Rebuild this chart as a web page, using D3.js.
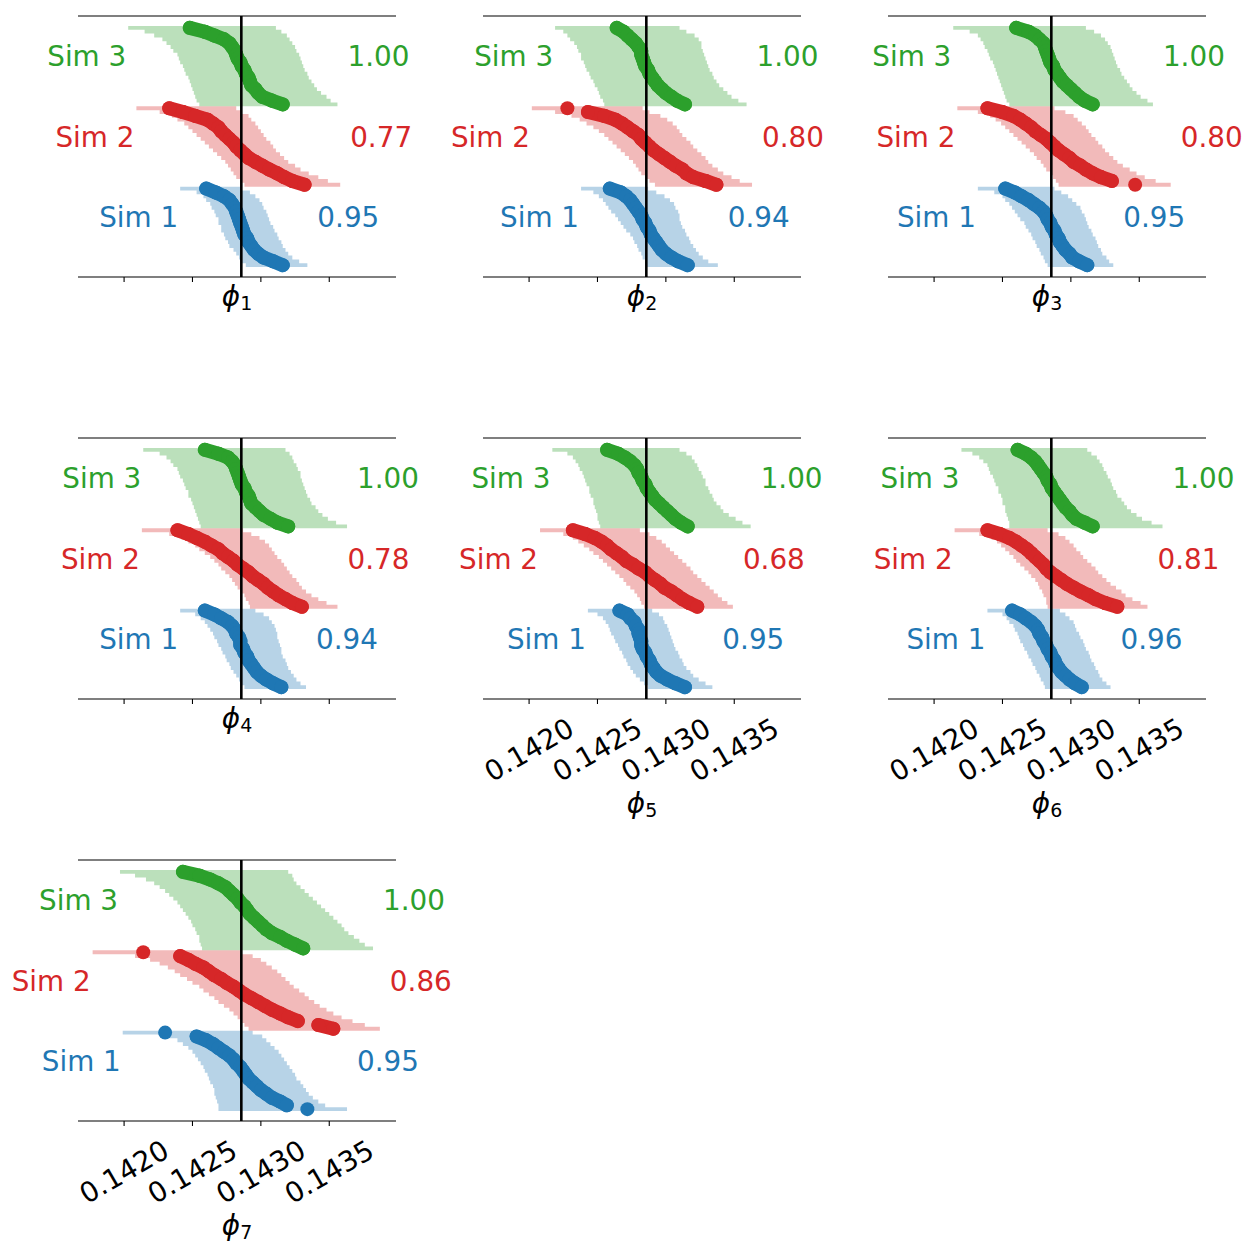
<!DOCTYPE html>
<html><head><meta charset="utf-8">
<script src="https://cdn.jsdelivr.net/npm/d3@7"></script>
<style>body{margin:0;background:#fff} text{font-family:"DejaVu Sans",sans-serif}</style>
</head><body><svg id="c" width="1245" height="1243"></svg>
<script>
// ---------- data (each array: [Sim 1, Sim 2, Sim 3]; replicates sorted by estimate) ----------
const sims = ["Sim 1", "Sim 2", "Sim 3"];
const simColors = ["#1f77b4", "#d62728", "#2ca02c"];
const trueValue = 1 / 7;
const xTicks = [0.1420, 0.1425, 0.1430, 0.1435];
const xTickLabels = ["0.1420", "0.1425", "0.1430", "0.1435"];
const paramNames = ["1", "2", "3", "4", "5", "6", "7"];
const coverage = [
  [0.95, 0.77, 1.00], [0.94, 0.80, 1.00], [0.95, 0.80, 1.00], [0.94, 0.78, 1.00],
  [0.95, 0.68, 1.00], [0.96, 0.81, 1.00], [0.95, 0.86, 1.00]
];

const est1 = [
 [0.14260,0.14267,0.14273,0.14277,0.14279,0.14281,0.14282,0.14283,0.14284,0.14285,0.14286,0.14287,0.14288,0.14290,0.14291,0.14293,0.14295,0.14298,0.14302,0.14309,0.14316],
 [0.14233,0.14243,0.14252,0.14261,0.14265,0.14269,0.14271,0.14274,0.14277,0.14280,0.14282,0.14285,0.14288,0.14291,0.14296,0.14301,0.14306,0.14312,0.14317,0.14323,0.14332],
 [0.14248,0.14259,0.14266,0.14273,0.14277,0.14279,0.14281,0.14282,0.14283,0.14285,0.14286,0.14288,0.14289,0.14291,0.14292,0.14293,0.14296,0.14298,0.14301,0.14308,0.14316]];
const lo1 = [
 [0.14241,0.14253,0.14258,0.14260,0.14263,0.14264,0.14266,0.14267,0.14269,0.14269,0.14271,0.14271,0.14273,0.14274,0.14276,0.14277,0.14280,0.14282,0.14284,0.14286,0.14289],
 [0.14209,0.14226,0.14235,0.14239,0.14244,0.14247,0.14250,0.14253,0.14256,0.14259,0.14262,0.14265,0.14268,0.14271,0.14274,0.14276,0.14278,0.14280,0.14282,0.14285,0.14288],
 [0.14203,0.14215,0.14222,0.14228,0.14231,0.14234,0.14236,0.14239,0.14240,0.14241,0.14243,0.14244,0.14245,0.14247,0.14248,0.14249,0.14250,0.14251,0.14252,0.14253,0.14255]];
const hi1 = [
 [0.14285,0.14292,0.14296,0.14299,0.14301,0.14302,0.14304,0.14305,0.14306,0.14307,0.14309,0.14310,0.14312,0.14313,0.14315,0.14316,0.14318,0.14320,0.14323,0.14328,0.14334],
 [0.14282,0.14286,0.14291,0.14293,0.14296,0.14298,0.14300,0.14302,0.14304,0.14307,0.14309,0.14311,0.14314,0.14317,0.14320,0.14325,0.14329,0.14335,0.14342,0.14349,0.14358],
 [0.14311,0.14315,0.14319,0.14321,0.14323,0.14325,0.14326,0.14328,0.14329,0.14330,0.14331,0.14332,0.14334,0.14335,0.14337,0.14339,0.14341,0.14344,0.14348,0.14351,0.14356]];

const est2 = [
 [0.14259,0.14267,0.14271,0.14274,0.14276,0.14278,0.14280,0.14282,0.14283,0.14285,0.14286,0.14288,0.14289,0.14291,0.14293,0.14295,0.14297,0.14300,0.14304,0.14309,0.14316],
 [0.14228,0.14243,0.14255,0.14263,0.14268,0.14272,0.14276,0.14280,0.14282,0.14285,0.14288,0.14291,0.14295,0.14299,0.14303,0.14307,0.14312,0.14315,0.14320,0.14329,0.14337],
 [0.14264,0.14269,0.14272,0.14275,0.14278,0.14280,0.14282,0.14282,0.14283,0.14284,0.14285,0.14287,0.14288,0.14290,0.14292,0.14294,0.14297,0.14300,0.14304,0.14308,0.14314]];
const lo2 = [
 [0.14238,0.14247,0.14251,0.14254,0.14256,0.14258,0.14260,0.14263,0.14265,0.14267,0.14269,0.14271,0.14274,0.14276,0.14277,0.14279,0.14280,0.14282,0.14283,0.14285,0.14286],
 [0.14202,0.14219,0.14231,0.14237,0.14242,0.14247,0.14251,0.14255,0.14258,0.14261,0.14264,0.14267,0.14270,0.14273,0.14276,0.14278,0.14280,0.14282,0.14285,0.14288,0.14292],
 [0.14219,0.14225,0.14228,0.14230,0.14233,0.14235,0.14236,0.14238,0.14238,0.14240,0.14241,0.14242,0.14244,0.14245,0.14247,0.14248,0.14250,0.14251,0.14252,0.14254,0.14255]];
const hi2 = [
 [0.14287,0.14293,0.14299,0.14303,0.14306,0.14307,0.14309,0.14310,0.14310,0.14311,0.14312,0.14314,0.14315,0.14317,0.14318,0.14320,0.14322,0.14324,0.14327,0.14331,0.14338],
 [0.14283,0.14288,0.14296,0.14301,0.14305,0.14308,0.14310,0.14312,0.14315,0.14318,0.14320,0.14323,0.14326,0.14329,0.14331,0.14334,0.14338,0.14342,0.14348,0.14354,0.14363],
 [0.14310,0.14315,0.14321,0.14324,0.14326,0.14326,0.14327,0.14328,0.14329,0.14330,0.14331,0.14332,0.14334,0.14335,0.14337,0.14339,0.14342,0.14345,0.14348,0.14353,0.14359]];

const est3 = [
 [0.14252,0.14259,0.14264,0.14269,0.14273,0.14277,0.14280,0.14282,0.14283,0.14285,0.14286,0.14288,0.14289,0.14291,0.14292,0.14294,0.14296,0.14299,0.14301,0.14306,0.14312],
 [0.14239,0.14250,0.14258,0.14263,0.14267,0.14271,0.14274,0.14278,0.14282,0.14285,0.14288,0.14291,0.14295,0.14299,0.14302,0.14307,0.14311,0.14316,0.14322,0.14330,0.14347],
 [0.14260,0.14269,0.14274,0.14277,0.14280,0.14281,0.14282,0.14283,0.14284,0.14285,0.14287,0.14288,0.14290,0.14292,0.14294,0.14297,0.14300,0.14303,0.14306,0.14310,0.14316]];
const lo3 = [
 [0.14232,0.14244,0.14250,0.14252,0.14255,0.14257,0.14259,0.14261,0.14263,0.14266,0.14267,0.14269,0.14271,0.14272,0.14274,0.14275,0.14277,0.14278,0.14280,0.14281,0.14283],
 [0.14217,0.14232,0.14241,0.14245,0.14249,0.14252,0.14255,0.14258,0.14261,0.14264,0.14267,0.14270,0.14273,0.14275,0.14278,0.14280,0.14282,0.14285,0.14287,0.14289,0.14291],
 [0.14214,0.14226,0.14232,0.14234,0.14236,0.14237,0.14239,0.14240,0.14241,0.14243,0.14244,0.14245,0.14246,0.14247,0.14248,0.14249,0.14250,0.14251,0.14252,0.14253,0.14255]];
const hi3 = [
 [0.14288,0.14293,0.14298,0.14301,0.14304,0.14307,0.14308,0.14310,0.14311,0.14312,0.14313,0.14315,0.14316,0.14318,0.14319,0.14320,0.14322,0.14323,0.14326,0.14328,0.14331],
 [0.14288,0.14296,0.14302,0.14305,0.14308,0.14311,0.14313,0.14315,0.14318,0.14320,0.14323,0.14325,0.14328,0.14331,0.14334,0.14338,0.14343,0.14348,0.14354,0.14362,0.14373],
 [0.14311,0.14317,0.14322,0.14325,0.14327,0.14329,0.14330,0.14331,0.14332,0.14333,0.14334,0.14336,0.14337,0.14339,0.14341,0.14343,0.14345,0.14348,0.14351,0.14356,0.14360]];

const est4 = [
 [0.14259,0.14266,0.14271,0.14276,0.14279,0.14281,0.14282,0.14284,0.14285,0.14285,0.14287,0.14288,0.14290,0.14291,0.14293,0.14295,0.14297,0.14300,0.14304,0.14309,0.14315],
 [0.14239,0.14247,0.14253,0.14259,0.14264,0.14269,0.14272,0.14276,0.14280,0.14283,0.14287,0.14291,0.14294,0.14298,0.14302,0.14305,0.14309,0.14313,0.14318,0.14323,0.14330],
 [0.14259,0.14269,0.14276,0.14279,0.14281,0.14282,0.14283,0.14284,0.14285,0.14286,0.14288,0.14289,0.14291,0.14292,0.14293,0.14296,0.14299,0.14302,0.14307,0.14312,0.14320]];
const lo4 = [
 [0.14241,0.14252,0.14256,0.14259,0.14261,0.14263,0.14265,0.14266,0.14268,0.14269,0.14271,0.14272,0.14274,0.14275,0.14277,0.14278,0.14280,0.14282,0.14284,0.14286,0.14288],
 [0.14213,0.14233,0.14242,0.14247,0.14252,0.14255,0.14259,0.14263,0.14266,0.14269,0.14271,0.14274,0.14277,0.14279,0.14281,0.14283,0.14285,0.14288,0.14289,0.14291,0.14292],
 [0.14214,0.14226,0.14231,0.14234,0.14236,0.14239,0.14240,0.14241,0.14243,0.14244,0.14245,0.14247,0.14247,0.14249,0.14250,0.14251,0.14252,0.14253,0.14254,0.14255,0.14256]];
const hi4 = [
 [0.14296,0.14302,0.14306,0.14308,0.14310,0.14311,0.14312,0.14312,0.14313,0.14314,0.14315,0.14315,0.14316,0.14318,0.14319,0.14320,0.14322,0.14324,0.14326,0.14329,0.14333],
 [0.14287,0.14293,0.14299,0.14303,0.14306,0.14308,0.14310,0.14312,0.14315,0.14317,0.14319,0.14321,0.14323,0.14326,0.14328,0.14330,0.14333,0.14337,0.14342,0.14348,0.14356],
 [0.14318,0.14321,0.14323,0.14324,0.14326,0.14327,0.14329,0.14329,0.14330,0.14331,0.14332,0.14333,0.14334,0.14336,0.14337,0.14340,0.14342,0.14345,0.14349,0.14355,0.14363]];

const est5 = [
 [0.14266,0.14272,0.14274,0.14277,0.14278,0.14280,0.14280,0.14281,0.14282,0.14282,0.14283,0.14285,0.14286,0.14288,0.14289,0.14291,0.14293,0.14296,0.14301,0.14307,0.14314],
 [0.14232,0.14241,0.14248,0.14253,0.14257,0.14260,0.14264,0.14268,0.14271,0.14276,0.14280,0.14285,0.14288,0.14292,0.14296,0.14299,0.14304,0.14308,0.14312,0.14317,0.14323],
 [0.14257,0.14265,0.14270,0.14274,0.14277,0.14279,0.14280,0.14282,0.14283,0.14285,0.14286,0.14288,0.14290,0.14292,0.14295,0.14298,0.14301,0.14304,0.14307,0.14311,0.14316]];
const lo5 = [
 [0.14243,0.14250,0.14254,0.14256,0.14258,0.14259,0.14260,0.14262,0.14263,0.14265,0.14266,0.14268,0.14269,0.14271,0.14272,0.14274,0.14276,0.14278,0.14281,0.14284,0.14287],
 [0.14208,0.14225,0.14232,0.14236,0.14240,0.14244,0.14247,0.14251,0.14254,0.14257,0.14260,0.14263,0.14266,0.14269,0.14271,0.14274,0.14277,0.14279,0.14281,0.14282,0.14284],
 [0.14217,0.14228,0.14232,0.14234,0.14236,0.14237,0.14239,0.14240,0.14241,0.14242,0.14244,0.14244,0.14245,0.14247,0.14247,0.14248,0.14249,0.14250,0.14250,0.14251,0.14252]];
const hi5 = [
 [0.14290,0.14295,0.14298,0.14299,0.14301,0.14302,0.14303,0.14304,0.14305,0.14306,0.14307,0.14309,0.14310,0.14312,0.14313,0.14315,0.14318,0.14320,0.14324,0.14329,0.14334],
 [0.14281,0.14288,0.14293,0.14297,0.14300,0.14303,0.14306,0.14309,0.14312,0.14315,0.14318,0.14320,0.14323,0.14326,0.14329,0.14332,0.14335,0.14338,0.14341,0.14345,0.14349],
 [0.14310,0.14315,0.14319,0.14321,0.14323,0.14324,0.14326,0.14327,0.14329,0.14329,0.14331,0.14332,0.14334,0.14335,0.14337,0.14340,0.14342,0.14346,0.14351,0.14356,0.14362]];

const est6 = [
 [0.14257,0.14263,0.14267,0.14271,0.14274,0.14276,0.14277,0.14279,0.14280,0.14282,0.14283,0.14285,0.14286,0.14288,0.14289,0.14291,0.14293,0.14296,0.14299,0.14303,0.14308],
 [0.14239,0.14248,0.14255,0.14260,0.14264,0.14268,0.14271,0.14274,0.14277,0.14280,0.14282,0.14285,0.14289,0.14293,0.14297,0.14302,0.14307,0.14313,0.14318,0.14325,0.14334],
 [0.14261,0.14267,0.14271,0.14274,0.14276,0.14278,0.14280,0.14282,0.14283,0.14285,0.14286,0.14288,0.14290,0.14292,0.14294,0.14296,0.14299,0.14301,0.14304,0.14310,0.14316]];
const lo6 = [
 [0.14239,0.14250,0.14253,0.14255,0.14258,0.14259,0.14261,0.14262,0.14263,0.14265,0.14266,0.14268,0.14269,0.14271,0.14272,0.14274,0.14275,0.14277,0.14278,0.14280,0.14281],
 [0.14215,0.14233,0.14242,0.14246,0.14249,0.14252,0.14255,0.14258,0.14260,0.14263,0.14266,0.14269,0.14271,0.14274,0.14276,0.14277,0.14279,0.14280,0.14282,0.14282,0.14283],
 [0.14220,0.14228,0.14233,0.14236,0.14239,0.14240,0.14241,0.14243,0.14244,0.14245,0.14247,0.14247,0.14249,0.14250,0.14250,0.14252,0.14252,0.14253,0.14254,0.14255,0.14255]];
const hi6 = [
 [0.14292,0.14296,0.14299,0.14302,0.14303,0.14304,0.14306,0.14307,0.14309,0.14310,0.14311,0.14313,0.14314,0.14315,0.14317,0.14318,0.14320,0.14321,0.14323,0.14326,0.14329],
 [0.14283,0.14291,0.14296,0.14299,0.14302,0.14304,0.14307,0.14309,0.14312,0.14315,0.14318,0.14320,0.14323,0.14326,0.14329,0.14333,0.14337,0.14340,0.14345,0.14351,0.14356],
 [0.14312,0.14315,0.14319,0.14321,0.14323,0.14324,0.14326,0.14327,0.14329,0.14330,0.14331,0.14333,0.14334,0.14337,0.14339,0.14341,0.14344,0.14348,0.14352,0.14359,0.14367]];

const est7 = [
 [0.14230,0.14253,0.14260,0.14265,0.14269,0.14273,0.14277,0.14280,0.14282,0.14285,0.14287,0.14289,0.14291,0.14294,0.14297,0.14300,0.14304,0.14308,0.14314,0.14319,0.14334],
 [0.14214,0.14241,0.14247,0.14252,0.14258,0.14262,0.14266,0.14271,0.14275,0.14280,0.14284,0.14288,0.14293,0.14298,0.14303,0.14308,0.14314,0.14320,0.14327,0.14342,0.14353],
 [0.14243,0.14255,0.14263,0.14269,0.14274,0.14277,0.14280,0.14283,0.14285,0.14288,0.14290,0.14292,0.14295,0.14298,0.14301,0.14304,0.14308,0.14314,0.14319,0.14325,0.14331]];
const lo7 = [
 [0.14199,0.14232,0.14239,0.14243,0.14247,0.14250,0.14252,0.14254,0.14256,0.14258,0.14259,0.14261,0.14262,0.14263,0.14265,0.14266,0.14266,0.14267,0.14268,0.14269,0.14269],
 [0.14177,0.14208,0.14219,0.14226,0.14232,0.14237,0.14241,0.14246,0.14250,0.14255,0.14258,0.14262,0.14266,0.14269,0.14273,0.14277,0.14280,0.14283,0.14286,0.14288,0.14291],
 [0.14197,0.14208,0.14216,0.14222,0.14226,0.14230,0.14233,0.14236,0.14239,0.14241,0.14243,0.14245,0.14247,0.14249,0.14250,0.14252,0.14253,0.14255,0.14255,0.14256,0.14257]];
const hi7 = [
 [0.14294,0.14301,0.14304,0.14307,0.14310,0.14313,0.14315,0.14317,0.14319,0.14321,0.14323,0.14325,0.14326,0.14329,0.14331,0.14333,0.14335,0.14338,0.14342,0.14347,0.14363],
 [0.14285,0.14294,0.14300,0.14304,0.14308,0.14312,0.14315,0.14318,0.14321,0.14324,0.14328,0.14332,0.14335,0.14339,0.14343,0.14348,0.14353,0.14359,0.14367,0.14376,0.14387],
 [0.14320,0.14323,0.14324,0.14326,0.14329,0.14332,0.14335,0.14338,0.14341,0.14344,0.14347,0.14350,0.14353,0.14356,0.14359,0.14361,0.14364,0.14368,0.14372,0.14376,0.14382]];

// ---------- table built from the arrays ----------
const ests = [est1, est2, est3, est4, est5, est6, est7];
const los = [lo1, lo2, lo3, lo4, lo5, lo6, lo7];
const his = [hi1, hi2, hi3, hi4, hi5, hi6, hi7];
const panels = paramNames.map((n, i) => ({name: n, est: ests[i], lo: los[i], hi: his[i], cov: coverage[i]}));

// ---------- layout ----------
const svg = d3.select("#c");
const W = 318, H = 261;
const colX = [78, 483, 888], rowY = [16, 438, 860];
const FS = 27.8;
const R = 7;
const nRows = est1[0].length;
const x = d3.scaleLinear().domain([0.141663, 0.143988]).range([0, W]);
const nTot = 3 * nRows;
const pad = 0.05 * (nTot - 1);
const y = d3.scaleLinear().domain([-pad, nTot - 1 + pad]).range([0, H]);
const step = y(1) - y(0);

panels.forEach((p, i) => {
  const col = i % 3, row = Math.floor(i / 3);
  const g = svg.append("g").attr("transform", `translate(${colX[col]},${rowY[row]})`);
  const hasLabels = i >= 4;

  // CI bands
  [0, 1, 2].forEach(s => {
    const grp = 2 - s;
    let d = "";
    p.lo[s].forEach((lo, k) => {
      const yy = y(grp * nRows + k);
      const x0 = x(lo), x1 = x(p.hi[s][k]);
      d += `M${x0},${yy - step / 2}H${x1}V${yy + step / 2}H${x0}Z`;
    });
    g.append("path").attr("d", d).attr("fill", simColors[s]).attr("fill-opacity", 0.32);
  });

  // estimates: dots, merged where neighbours overlap
  [0, 1, 2].forEach(s => {
    const grp = 2 - s;
    const pts = p.est[s].map((v, k) => [x(v), y(grp * nRows + k)]);
    const segs = [];
    for (let k = 1; k < pts.length; k++) {
      const dx = pts[k][0] - pts[k - 1][0], dy = pts[k][1] - pts[k - 1][1];
      if (Math.hypot(dx, dy) < 17.5) segs.push([pts[k - 1], pts[k]]);
    }
    g.append("g").selectAll("line").data(segs).join("line")
      .attr("x1", d => d[0][0]).attr("y1", d => d[0][1])
      .attr("x2", d => d[1][0]).attr("y2", d => d[1][1])
      .attr("stroke", simColors[s]).attr("stroke-width", 2 * R).attr("stroke-linecap", "round");
    g.append("g").selectAll("circle").data(pts).join("circle")
      .attr("cx", d => d[0]).attr("cy", d => d[1])
      .attr("r", R).attr("fill", simColors[s]);
  });

  // sim labels and coverage
  [0, 1, 2].forEach(s => {
    const grp = 2 - s;
    const yc = y(grp * nRows + (nRows - 1) / 2);
    const mn = d3.min(p.lo[s]), mx = d3.max(p.hi[s]);
    g.append("text").attr("x", x(mn) - 2).attr("y", yc).attr("text-anchor", "end")
      .attr("font-size", FS).attr("fill", simColors[s]).text(sims[s]);
    g.append("text").attr("x", x(mx) + 10).attr("y", yc).attr("text-anchor", "start")
      .attr("font-size", FS).attr("fill", simColors[s]).text(p.cov[s].toFixed(2));
  });

  // spines
  g.append("line").attr("x1", 0).attr("x2", W).attr("y1", 0).attr("y2", 0).attr("stroke", "#000").attr("stroke-width", 1.1);
  g.append("line").attr("x1", 0).attr("x2", W).attr("y1", H).attr("y2", H).attr("stroke", "#000").attr("stroke-width", 1.1);

  // ticks
  xTicks.forEach((t, j) => {
    g.append("line").attr("x1", x(t)).attr("x2", x(t)).attr("y1", H).attr("y2", H + 5)
      .attr("stroke", "#000").attr("stroke-width", 1.1);
    if (hasLabels) {
      g.append("text").attr("transform", `translate(${x(t)},${H + 51}) rotate(-30)`)
        .attr("text-anchor", "middle").attr("dominant-baseline", "central")
        .attr("font-size", FS).attr("fill", "#000").text(xTickLabels[j]);
    }
  });

  // true value line
  g.append("line").attr("x1", x(trueValue)).attr("x2", x(trueValue)).attr("y1", 0).attr("y2", H)
    .attr("stroke", "#000").attr("stroke-width", 2.6);

  // axis label
  const lab = g.append("text").attr("x", W / 2).attr("y", hasLabels ? H + 114 : H + 29)
    .attr("text-anchor", "middle").attr("font-size", FS).attr("fill", "#000");
  lab.append("tspan").attr("font-style", "italic").text("ϕ");
  lab.append("tspan").attr("font-size", 19).attr("dy", 4).text(p.name);
});
</script></body></html>
